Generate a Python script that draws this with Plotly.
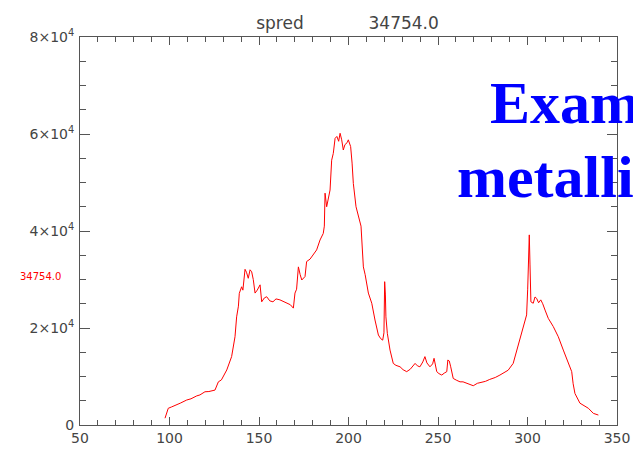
import plotly.graph_objects as go

# ---- data ----
wavelength = [97.5, 98.5, 99.3, 101, 104.0, 106, 109.6, 112, 115.2, 117, 119.8, 122, 125.4, 127.3, 129,
              132.0, 134.7, 136.6, 137.5, 138.5, 139.0, 140.3, 141.0, 142.2, 143.0, 144.0, 145.0, 145.9,
              146.8, 147.8, 149.0, 150.6, 151.5, 153.0, 154.3, 156.0, 157.8, 159.5, 161.7, 163.5, 165.5,
              167.5, 169.2, 170.1, 171.0, 172.0, 173.0, 173.9, 175.7, 176.6, 178.5, 180.3, 182.2, 184.1,
              185.9, 186.5, 186.9, 187.8, 188.8, 189.7, 190.6, 191.5, 192.5, 193.5, 194.5, 195.3, 196.2,
              197.1, 198.0, 199.2, 199.9, 201.2, 202.0, 202.7, 204.2, 206.0, 207.0, 208.3, 209.3, 211.1,
              213.0, 214.8, 216.7, 218.0, 219.1, 219.8, 220.2, 220.6, 220.9, 221.7, 223.2, 225.0, 226.5,
              228.8, 230.5, 232.5, 234.5, 237.2, 238.5, 239.9, 241.5, 242.7, 243.8, 245.5, 247.0, 247.8,
              248.5, 249.3, 250.5, 252.1, 253.5, 254.9, 255.5, 256.3, 257.1, 258.5, 260.5, 262.3, 264,
              266.0, 268, 269.7, 272, 274.4, 276.5, 278.9, 282, 284.6, 287, 289.2, 292.0, 294.8, 297.6,
              299.5, 300.1, 300.4, 301.0, 301.4, 301.9, 303.2, 304.2, 305.1, 306.2, 307.4, 308.5, 309.8,
              311.6, 314.4, 317.2, 320.0, 322.8, 324.7, 325.5, 326.5, 329.3, 331.5, 334.0, 336.8, 338.0,
              339.6]
intensity = [1400, 2400, 3450, 3700, 4100, 4500, 5150, 5400, 6000, 6200, 6850, 6900, 7200, 8900, 9300,
             11350, 14100, 18200, 22300, 24500, 27150, 28500, 27800, 32100, 31500, 30250, 32000, 31600,
             30000, 27200, 27800, 28900, 25400, 26200, 26450, 25600, 25400, 26000, 25800, 25500, 25200,
             24800, 24100, 27200, 28000, 32600, 31000, 29900, 30600, 33700, 34200, 35050, 36100, 38150,
             39500, 41000, 47800, 45000, 47000, 48450, 54600, 56000, 59100, 59500, 58500, 60150, 58800,
             56700, 57800, 58200, 58800, 57400, 54000, 49800, 45000, 42300, 41000, 32600, 31000, 27200,
             25100, 21650, 18550, 17800, 17500, 19000, 29550, 27000, 22300, 18900, 15450, 12700, 12300,
             12000, 11400, 11000, 11500, 12700, 12200, 12000, 13000, 14100, 12800, 12000, 12600, 13750,
             12000, 11000, 10600, 10300, 10700, 11000, 13400, 13200, 12000, 9600, 9200, 8900, 8900,
             8600, 8300, 8100, 8600, 8800, 9000, 9400, 9800, 10300, 10800, 11300, 12700, 16500, 20300,
             22700, 28000, 32600, 39200, 33000, 25400, 25100, 26400, 26100, 25200, 25800, 25000, 23700,
             22000, 20300, 18200, 15450, 12700, 11000, 8500, 6500, 4500, 4000, 3450, 2400, 2200,
             2050]

y_tick_vals = [0, 20000, 40000, 60000, 80000]
y_tick_text = ["0", "2×10<sup>4</sup>", "4×10<sup>4</sup>", "6×10<sup>4</sup>", "8×10<sup>4</sup>"]
x_tick_vals = [50, 100, 150, 200, 250, 300, 350]
title_left = "spred"
title_right = "34754.0"
side_label = "34754.0"
overlay_line1 = "Example"
overlay_line2 = "metallic"

axis_color = "#555555"
tick_font = dict(family="DejaVu Sans", size=14, color="#444444")

fig = go.Figure()
fig.add_trace(go.Scatter(x=wavelength, y=intensity, mode="lines",
                         line=dict(color="#ff0000", width=1), showlegend=False,
                         hoverinfo="skip"))

fig.update_layout(
    width=633, height=449,
    margin=dict(l=80, r=16, t=37, b=24, autoexpand=False),
    paper_bgcolor="white", plot_bgcolor="white",
    title=dict(text=title_left + "\u00a0" * 12 + title_right,
               x=(347.5 - 80) / 537, xref="paper", xanchor="center",
               y=1 - 23 / 449, yref="container", yanchor="middle",
               font=dict(family="DejaVu Sans", size=17, color="#444444")),
    xaxis=dict(range=[50, 350], tickmode="array", tickvals=x_tick_vals,
               ticks="inside", ticklen=8, tickwidth=1, tickcolor=axis_color,
               showline=True, linecolor=axis_color, linewidth=1, mirror="allticks",
               showgrid=False, zeroline=False, tickfont=tick_font,
               minor=dict(ticks="inside", dtick=10, ticklen=5, tickcolor=axis_color,
                          showgrid=False)),
    yaxis=dict(range=[0, 80000], tickmode="array", tickvals=y_tick_vals, ticktext=y_tick_text,
               ticks="inside", ticklen=10, tickwidth=1, tickcolor=axis_color,
               showline=True, linecolor=axis_color, linewidth=1, mirror="allticks",
               showgrid=False, zeroline=False, tickfont=tick_font, ticklabelstandoff=2,
               minor=dict(ticks="inside", dtick=5000, ticklen=6, tickcolor=axis_color,
                          showgrid=False)),
)

fig.add_annotation(text=side_label, xref="paper", yref="y",
                   x=-17 / 537, y=30600, xanchor="right", yanchor="middle",
                   showarrow=False, font=dict(family="DejaVu Sans", size=10, color="#ff0000"))

blue_font = dict(family="Liberation Serif", size=60, color="#0000ff", weight="bold")
fig.add_annotation(text=overlay_line1, xref="paper", yref="paper",
                   x=(488 - 80) / 537, y=(425 - 103) / 388, xanchor="left", yanchor="middle",
                   showarrow=False, font=blue_font)
fig.add_annotation(text=overlay_line2, xref="paper", yref="paper",
                   x=(455 - 80) / 537, y=(425 - 177) / 388, xanchor="left", yanchor="middle",
                   showarrow=False, font=blue_font)

fig.write_html("out.html")
